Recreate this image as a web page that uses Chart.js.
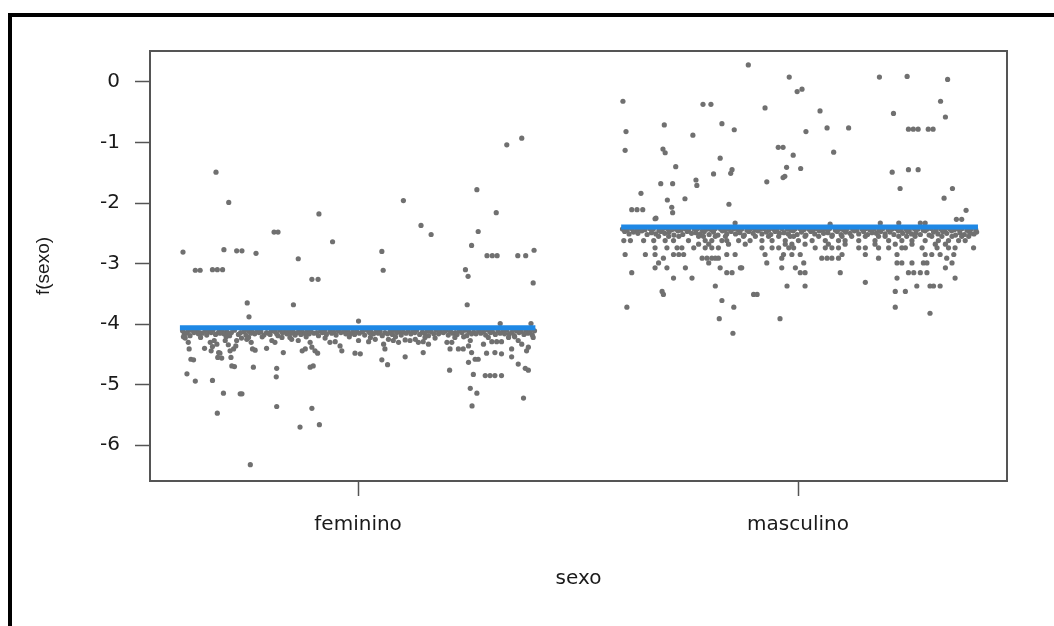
<!DOCTYPE html>
<html><head><meta charset="utf-8">
<script src="https://cdn.jsdelivr.net/npm/chart.js@4.4.1/dist/chart.umd.min.js"></script>
<style>html,body{margin:0;padding:0;background:#fff;}#wrap{width:1054px;height:626px;position:relative;}</style>
</head><body><div id="wrap"><canvas id="c" width="1054" height="626"></canvas></div>
<script>
const categories = ['feminino', 'masculino'];
const yTickValues = [0, -1, -2, -3, -4, -5, -6];
const fitValues = [-4.06, -2.395];
const fitFrom = [0.595, 1.598];
const fitTo = [1.403, 2.409];

const femBandA = [[0.601,-4.11],[0.612,-4.13],[0.621,-4.10],[0.633,-4.12],[0.640,-4.14],[0.652,-4.11],[0.661,-4.12],[0.670,-4.10],[0.683,-4.13],[0.690,-4.11],[0.701,-4.12],[0.712,-4.14],[0.719,-4.10],[0.741,-4.12],[0.751,-4.11],[0.760,-4.13],[0.771,-4.10],[0.779,-4.12],[0.792,-4.14],[0.803,-4.11],[0.811,-4.12],[0.822,-4.10],[0.834,-4.13],[0.843,-4.11],[0.852,-4.12],[0.866,-4.10],[0.874,-4.13],[0.885,-4.11],[0.893,-4.12],[0.906,-4.14],[0.915,-4.11],[0.924,-4.10],[0.936,-4.12],[0.945,-4.13],[0.955,-4.11],[0.968,-4.12],[0.977,-4.10],[0.988,-4.13],[0.997,-4.11],[1.010,-4.12],[1.021,-4.10],[1.030,-4.13],[1.042,-4.11],[1.050,-4.12],[1.061,-4.14],[1.073,-4.11],[1.082,-4.10],[1.094,-4.12],[1.103,-4.13],[1.114,-4.11],[1.125,-4.12],[1.133,-4.10],[1.146,-4.13],[1.157,-4.11],[1.166,-4.12],[1.178,-4.10],[1.188,-4.13],[1.199,-4.11],[1.210,-4.12],[1.221,-4.14],[1.230,-4.11],[1.243,-4.10],[1.252,-4.12],[1.263,-4.13],[1.274,-4.11],[1.285,-4.12],[1.296,-4.10],[1.306,-4.13],[1.318,-4.11],[1.329,-4.12],[1.338,-4.10],[1.350,-4.13],[1.360,-4.11],[1.371,-4.12],[1.382,-4.10],[1.391,-4.13],[1.401,-4.11]];
const femBandB = [[0.605,-4.17],[0.618,-4.19],[0.637,-4.16],[0.656,-4.18],[0.676,-4.17],[0.695,-4.16],[0.708,-4.19],[0.728,-4.17],[0.745,-4.18],[0.765,-4.16],[0.786,-4.18],[0.800,-4.17],[0.818,-4.19],[0.838,-4.16],[0.857,-4.18],[0.870,-4.17],[0.889,-4.16],[0.910,-4.19],[0.928,-4.17],[0.950,-4.18],[0.972,-4.16],[0.992,-4.17],[1.015,-4.18],[1.035,-4.16],[1.055,-4.19],[1.078,-4.17],[1.098,-4.18],[1.120,-4.16],[1.140,-4.17],[1.160,-4.19],[1.183,-4.16],[1.205,-4.18],[1.225,-4.17],[1.247,-4.19],[1.268,-4.16],[1.290,-4.18],[1.312,-4.17],[1.333,-4.16],[1.355,-4.19],[1.377,-4.17],[1.396,-4.18]];
const femBandC = [[0.609,-4.15],[0.627,-4.14],[0.646,-4.15],[0.666,-4.14],[0.686,-4.15],[0.704,-4.16],[0.733,-4.14],[0.756,-4.15],[0.775,-4.14],[0.797,-4.15],[0.815,-4.16],[0.828,-4.14],[0.848,-4.15],[0.862,-4.14],[0.880,-4.16],[0.900,-4.15],[0.919,-4.14],[0.940,-4.15],[0.961,-4.14],[0.982,-4.16],[1.003,-4.15],[1.026,-4.14],[1.046,-4.15],[1.067,-4.16],[1.088,-4.14],[1.109,-4.15],[1.129,-4.14],[1.151,-4.15],[1.172,-4.16],[1.194,-4.14],[1.215,-4.15],[1.236,-4.14],[1.258,-4.16],[1.279,-4.15],[1.301,-4.14],[1.323,-4.15],[1.344,-4.16],[1.366,-4.14],[1.386,-4.15]];
const femBandD = [[0.603,-4.21],[0.642,-4.22],[0.700,-4.21],[0.735,-4.23],[0.782,-4.21],[0.827,-4.22],[0.882,-4.21],[0.925,-4.23],[0.980,-4.21],[1.028,-4.22],[1.085,-4.21],[1.175,-4.23],[1.240,-4.21],[1.296,-4.22],[1.356,-4.21],[1.398,-4.22]];
const femAbove = [[0.677,-1.49],[0.706,-1.99],[0.809,-2.48],[0.818,-2.48],[0.602,-2.81],[0.695,-2.77],[0.724,-2.79],[0.736,-2.79],[0.768,-2.83],[0.630,-3.11],[0.641,-3.11],[0.669,-3.10],[0.680,-3.10],[0.692,-3.10],[0.748,-3.65],[0.752,-3.88],[1.103,-1.96],[0.911,-2.18],[0.942,-2.64],[0.864,-2.92],[1.054,-2.80],[1.057,-3.11],[0.895,-3.26],[0.909,-3.26],[0.853,-3.68],[1.001,-3.95],[1.372,-0.93],[1.338,-1.04],[1.270,-1.78],[1.314,-2.16],[1.143,-2.37],[1.166,-2.52],[1.273,-2.47],[1.258,-2.70],[1.293,-2.87],[1.305,-2.87],[1.316,-2.87],[1.363,-2.87],[1.381,-2.87],[1.400,-2.78],[1.244,-3.10],[1.250,-3.21],[1.398,-3.32],[1.248,-3.68],[1.323,-3.99],[1.393,-3.99]];
const femBelow = [[0.680,-5.47],[0.815,-5.36],[0.755,-6.32],[0.895,-5.39],[0.868,-5.70],[0.912,-5.66],[1.259,-5.35],[0.607,-4.23],[0.614,-4.30],[0.616,-4.41],[0.620,-4.58],[0.626,-4.59],[0.611,-4.82],[0.630,-4.94],[0.651,-4.40],[0.664,-4.30],[0.666,-4.44],[0.669,-4.37],[0.673,-4.27],[0.679,-4.33],[0.683,-4.47],[0.681,-4.55],[0.686,-4.48],[0.690,-4.56],[0.698,-4.27],[0.705,-4.34],[0.709,-4.44],[0.711,-4.55],[0.713,-4.69],[0.719,-4.70],[0.717,-4.41],[0.722,-4.36],[0.724,-4.27],[0.747,-4.25],[0.751,-4.22],[0.757,-4.30],[0.760,-4.41],[0.766,-4.43],[0.762,-4.71],[0.792,-4.40],[0.804,-4.27],[0.811,-4.30],[0.815,-4.73],[0.814,-4.87],[0.830,-4.47],[0.845,-4.22],[0.849,-4.25],[0.864,-4.27],[0.873,-4.44],[0.880,-4.41],[0.891,-4.30],[0.895,-4.38],[0.902,-4.44],[0.908,-4.48],[0.891,-4.71],[0.898,-4.69],[0.936,-4.30],[0.948,-4.29],[0.959,-4.36],[0.963,-4.44],[0.993,-4.48],[0.694,-5.14],[0.732,-5.15],[0.736,-5.15],[0.669,-4.93],[1.001,-4.27],[1.024,-4.29],[1.039,-4.25],[1.058,-4.33],[1.061,-4.41],[1.069,-4.25],[1.080,-4.27],[1.092,-4.30],[1.107,-4.26],[1.118,-4.27],[1.130,-4.25],[1.137,-4.30],[1.148,-4.29],[1.152,-4.22],[1.160,-4.33],[1.148,-4.47],[1.107,-4.54],[1.054,-4.59],[1.067,-4.67],[1.005,-4.49],[1.202,-4.30],[1.209,-4.41],[1.213,-4.30],[1.220,-4.22],[1.228,-4.41],[1.239,-4.41],[1.251,-4.36],[1.258,-4.47],[1.255,-4.27],[1.285,-4.33],[1.292,-4.48],[1.304,-4.29],[1.315,-4.29],[1.326,-4.29],[1.311,-4.47],[1.326,-4.49],[1.342,-4.22],[1.349,-4.41],[1.364,-4.27],[1.372,-4.33],[1.387,-4.38],[1.383,-4.44],[1.208,-4.76],[1.251,-4.63],[1.266,-4.58],[1.273,-4.58],[1.262,-4.83],[1.289,-4.85],[1.300,-4.85],[1.311,-4.85],[1.326,-4.85],[1.255,-5.06],[1.270,-5.14],[1.349,-4.54],[1.364,-4.66],[1.380,-4.73],[1.387,-4.76],[1.376,-5.22]];

const mascBandA = [[1.601,-2.43],[1.612,-2.44],[1.622,-2.42],[1.633,-2.45],[1.641,-2.43],[1.652,-2.44],[1.663,-2.42],[1.671,-2.43],[1.684,-2.45],[1.692,-2.43],[1.703,-2.42],[1.713,-2.44],[1.722,-2.43],[1.734,-2.45],[1.743,-2.42],[1.751,-2.44],[1.764,-2.43],[1.772,-2.42],[1.783,-2.45],[1.794,-2.43],[1.803,-2.44],[1.812,-2.42],[1.824,-2.43],[1.833,-2.45],[1.842,-2.43],[1.855,-2.42],[1.864,-2.44],[1.872,-2.43],[1.884,-2.45],[1.893,-2.42],[1.903,-2.44],[1.914,-2.43],[1.922,-2.42],[1.933,-2.45],[1.944,-2.43],[1.952,-2.44],[1.963,-2.42],[1.975,-2.43],[1.984,-2.45],[1.993,-2.43],[2.004,-2.42],[2.013,-2.44],[2.024,-2.43],[2.033,-2.45],[2.042,-2.42],[2.054,-2.44],[2.063,-2.43],[2.072,-2.42],[2.085,-2.45],[2.094,-2.43],[2.103,-2.44],[2.112,-2.42],[2.124,-2.43],[2.133,-2.45],[2.145,-2.43],[2.154,-2.42],[2.163,-2.44],[2.173,-2.43],[2.184,-2.45],[2.193,-2.42],[2.205,-2.44],[2.214,-2.43],[2.223,-2.42],[2.234,-2.45],[2.245,-2.43],[2.253,-2.44],[2.264,-2.42],[2.273,-2.43],[2.285,-2.45],[2.294,-2.43],[2.303,-2.42],[2.314,-2.44],[2.325,-2.43],[2.333,-2.45],[2.344,-2.42],[2.355,-2.44],[2.364,-2.43],[2.373,-2.42],[2.384,-2.45],[2.393,-2.43],[2.404,-2.44]];
const mascBandB = [[1.606,-2.47],[1.626,-2.48],[1.645,-2.46],[1.667,-2.49],[1.688,-2.47],[1.707,-2.48],[1.727,-2.46],[1.748,-2.47],[1.768,-2.49],[1.787,-2.47],[1.808,-2.48],[1.828,-2.46],[1.848,-2.47],[1.868,-2.49],[1.888,-2.47],[1.909,-2.46],[1.928,-2.48],[1.948,-2.47],[1.968,-2.49],[1.989,-2.46],[2.008,-2.48],[2.029,-2.47],[2.048,-2.46],[2.068,-2.49],[2.089,-2.47],[2.108,-2.48],[2.128,-2.46],[2.149,-2.47],[2.168,-2.49],[2.188,-2.47],[2.209,-2.48],[2.228,-2.46],[2.249,-2.47],[2.268,-2.49],[2.289,-2.46],[2.308,-2.48],[2.329,-2.47],[2.349,-2.46],[2.368,-2.49],[2.389,-2.47],[2.406,-2.48]];
const mascBandC = [[1.616,-2.51],[1.657,-2.52],[1.697,-2.50],[1.738,-2.52],[1.778,-2.51],[1.818,-2.53],[1.858,-2.51],[1.898,-2.50],[1.938,-2.52],[1.978,-2.51],[2.018,-2.53],[2.058,-2.50],[2.098,-2.52],[2.138,-2.51],[2.178,-2.50],[2.218,-2.52],[2.258,-2.51],[2.298,-2.53],[2.338,-2.50],[2.378,-2.52],[2.400,-2.51]];
const mascBandD = [[1.636,-2.50],[1.677,-2.51],[1.718,-2.53],[1.758,-2.50],[1.798,-2.52],[1.838,-2.51],[1.878,-2.53],[1.918,-2.51],[1.958,-2.50],[1.998,-2.52],[2.038,-2.51],[2.078,-2.53],[2.118,-2.50],[2.158,-2.52],[2.198,-2.51],[2.238,-2.50],[2.278,-2.52],[2.318,-2.51],[2.358,-2.53],[2.392,-2.50]];
const mascAbove = [[1.602,-0.32],[1.609,-0.82],[1.607,-1.13],[1.696,-0.71],[1.693,-1.11],[1.698,-1.17],[1.761,-0.88],[1.784,-0.37],[1.802,-0.37],[1.827,-0.69],[1.855,-0.79],[1.823,-1.26],[1.722,-1.40],[1.808,-1.52],[1.850,-1.45],[1.847,-1.51],[1.688,-1.68],[1.715,-1.68],[1.768,-1.62],[1.770,-1.71],[1.643,-1.84],[1.703,-1.95],[1.743,-1.93],[1.713,-2.07],[1.715,-2.16],[1.622,-2.11],[1.634,-2.11],[1.647,-2.11],[1.677,-2.25],[1.843,-2.02],[1.887,0.28],[1.980,0.08],[1.998,-0.16],[2.009,-0.12],[1.925,-0.43],[2.050,-0.48],[2.018,-0.82],[2.066,-0.76],[2.115,-0.76],[1.955,-1.08],[1.966,-1.08],[1.989,-1.21],[2.081,-1.16],[1.974,-1.41],[2.006,-1.43],[1.966,-1.58],[1.970,-1.56],[1.929,-1.65],[2.185,0.08],[2.248,0.09],[2.340,0.04],[2.324,-0.32],[2.217,-0.52],[2.335,-0.58],[2.251,-0.78],[2.262,-0.78],[2.273,-0.78],[2.296,-0.78],[2.307,-0.78],[2.214,-1.49],[2.251,-1.45],[2.273,-1.45],[2.232,-1.76],[2.351,-1.76],[2.332,-1.92],[2.382,-2.12],[2.360,-2.27],[2.372,-2.27],[1.675,-2.26],[1.857,-2.33],[2.073,-2.35],[2.187,-2.33],[2.229,-2.33],[2.278,-2.33],[2.289,-2.33]];
const mascBelow = [[1.683,-2.55],[1.706,-2.55],[1.729,-2.55],[1.774,-2.55],[1.785,-2.55],[1.812,-2.55],[1.835,-2.55],[1.876,-2.55],[1.903,-2.55],[1.933,-2.55],[1.956,-2.55],[1.982,-2.55],[1.990,-2.55],[2.016,-2.55],[2.047,-2.55],[2.077,-2.55],[2.100,-2.55],[2.122,-2.55],[2.153,-2.55],[2.183,-2.55],[2.198,-2.55],[2.229,-2.55],[2.247,-2.55],[2.266,-2.55],[2.304,-2.55],[2.327,-2.55],[2.350,-2.55],[2.372,-2.55],[2.388,-2.55],
[1.604,-2.62],[1.619,-2.62],[1.649,-2.62],[1.672,-2.62],[1.698,-2.62],[1.717,-2.62],[1.751,-2.62],[1.789,-2.62],[1.804,-2.62],[1.827,-2.62],[1.838,-2.62],[1.865,-2.62],[1.891,-2.62],[1.918,-2.62],[1.941,-2.62],[1.971,-2.62],[2.001,-2.62],[2.032,-2.62],[2.062,-2.62],[2.092,-2.62],[2.107,-2.62],[2.138,-2.62],[2.175,-2.62],[2.206,-2.62],[2.236,-2.62],[2.259,-2.62],[2.289,-2.62],[2.319,-2.62],[2.342,-2.62],[2.365,-2.62],[2.380,-2.62],
[1.774,-2.68],[1.797,-2.68],[1.842,-2.68],[1.880,-2.68],[1.971,-2.68],[1.986,-2.68],[2.016,-2.68],[2.069,-2.68],[2.107,-2.68],[2.175,-2.68],[2.221,-2.68],[2.259,-2.68],[2.312,-2.68],[2.335,-2.68],
[1.675,-2.74],[1.702,-2.74],[1.725,-2.74],[1.736,-2.74],[1.763,-2.74],[1.789,-2.74],[1.804,-2.74],[1.819,-2.74],[1.918,-2.74],[1.941,-2.74],[1.956,-2.74],[1.979,-2.74],[1.990,-2.74],[2.039,-2.74],[2.062,-2.74],[2.077,-2.74],[2.092,-2.74],[2.138,-2.74],[2.153,-2.74],[2.183,-2.74],[2.206,-2.74],[2.236,-2.74],[2.244,-2.74],[2.282,-2.74],[2.316,-2.74],[2.342,-2.74],[2.357,-2.74],[2.399,-2.74],
[1.607,-2.85],[1.653,-2.85],[1.675,-2.85],[1.717,-2.85],[1.729,-2.85],[1.740,-2.85],[1.838,-2.85],[1.857,-2.85],[1.925,-2.85],[1.967,-2.85],[1.986,-2.85],[2.005,-2.85],[2.100,-2.85],[2.153,-2.85],[2.225,-2.85],[2.289,-2.85],[2.304,-2.85],[2.323,-2.85],[2.354,-2.85],
[1.694,-2.91],[1.782,-2.91],[1.793,-2.91],[1.804,-2.91],[1.812,-2.91],[1.819,-2.91],[1.963,-2.91],[2.054,-2.91],[2.066,-2.91],[2.077,-2.91],[2.092,-2.91],[2.183,-2.91],[2.338,-2.91],
[1.683,-2.99],[1.797,-2.99],[1.929,-2.99],[2.013,-2.99],[2.225,-2.99],[2.236,-2.99],[2.259,-2.99],[2.285,-2.99],[2.293,-2.99],[2.350,-2.99],
[1.675,-3.07],[1.702,-3.07],[1.744,-3.07],[1.823,-3.07],[1.869,-3.07],[1.872,-3.07],[1.963,-3.07],[1.994,-3.07],[2.335,-3.07],
[1.622,-3.15],[1.838,-3.15],[1.850,-3.15],[2.005,-3.15],[2.016,-3.15],[2.096,-3.15],[2.251,-3.15],[2.263,-3.15],[2.278,-3.15],[2.293,-3.15],
[1.717,-3.24],[1.759,-3.24],[2.225,-3.24],[2.357,-3.24],[2.153,-3.31],
[1.812,-3.37],[1.975,-3.37],[2.016,-3.37],[2.270,-3.37],[2.300,-3.37],[2.308,-3.37],[2.323,-3.37],
[1.691,-3.46],[2.221,-3.46],[2.244,-3.46],[1.694,-3.51],[1.899,-3.51],[1.907,-3.51],[1.827,-3.61],
[1.611,-3.72],[1.854,-3.72],[2.221,-3.72],[1.821,-3.91],[1.852,-4.15],[1.959,-3.91],[2.300,-3.82]];

const toPts = arr => arr.map(p => ({x: p[0], y: p[1]}));
const residuals = [].concat(femBandA, femBandB, femBandC, femBandD, femAbove, femBelow, mascBandA, mascBandB, mascBandC, mascBandD, mascAbove, mascBelow);

const framePlugin = {
  id: 'frame',
  beforeDraw(chart) {
    const c = chart.ctx;
    c.save();
    c.fillStyle = '#fff';
    c.fillRect(0, 0, chart.width, chart.height);
    c.fillStyle = '#000';
    c.fillRect(8, 13, chart.width - 8, 4);
    c.fillRect(8, 13, 4, chart.height - 13);
    c.restore();
  },
  afterDraw(chart) {
    const a = chart.chartArea, c = chart.ctx;
    c.save();
    c.strokeStyle = '#555';
    c.lineWidth = 2;
    c.strokeRect(a.left, a.top, a.right - a.left, a.bottom - a.top);
    c.restore();
  }
};

const tickFont = {family: 'DejaVu Sans', size: 20, lineHeight: 1.2};
new Chart(document.getElementById('c'), {
  type: 'scatter',
  data: {
    datasets: [
      {label: 'fit feminino', type: 'line', data: [{x: fitFrom[0], y: fitValues[0]}, {x: fitTo[0], y: fitValues[0]}], borderColor: '#1e88e5', borderWidth: 5, pointRadius: 0, order: 0},
      {label: 'fit masculino', type: 'line', data: [{x: fitFrom[1], y: fitValues[1]}, {x: fitTo[1], y: fitValues[1]}], borderColor: '#1e88e5', borderWidth: 5, pointRadius: 0, order: 0},
      {label: 'resíduos parciais', data: toPts(residuals), pointRadius: 2.6, pointStyle: 'circle', backgroundColor: '#707070', borderWidth: 0, order: 1}
    ]
  },
  options: {
    responsive: false, animation: false, devicePixelRatio: 1,
    layout: {padding: {left: 0, right: 47, top: 51, bottom: 0}},
    plugins: {legend: {display: false}, tooltip: {enabled: false}},
    scales: {
      x: {
        type: 'linear', min: 0.527, max: 2.475,
        afterBuildTicks: s => { s.ticks = [1, 2].map(v => ({value: v})); },
        afterFit: s => { s.height = 145; },
        ticks: {callback: v => categories[Math.round(v) - 1], font: tickFont, color: '#1a1a1a', padding: 17, maxRotation: 0, autoSkip: false},
        grid: {display: true, drawOnChartArea: false, drawTicks: true, tickLength: 15, tickColor: '#555', tickWidth: 1.5},
        border: {display: false},
        title: {display: true, text: 'sexo', font: tickFont, color: '#1a1a1a', padding: {top: 0, bottom: 35}}
      },
      y: {
        type: 'linear', min: -6.59, max: 0.51,
        afterBuildTicks: s => { s.ticks = yTickValues.map(v => ({value: v})); },
        afterFit: s => { s.width = 150; },
        ticks: {font: tickFont, color: '#1a1a1a', padding: 15, autoSkip: false},
        grid: {display: true, drawOnChartArea: false, drawTicks: true, tickLength: 15, tickColor: '#555', tickWidth: 1.5},
        border: {display: false},
        title: {display: true, text: 'f(sexo)', font: {family: 'Liberation Sans', size: 19, lineHeight: 1.2}, color: '#1a1a1a', padding: {top: 32, bottom: 0}}
      }
    }
  },
  plugins: [framePlugin]
});
</script></body></html>
